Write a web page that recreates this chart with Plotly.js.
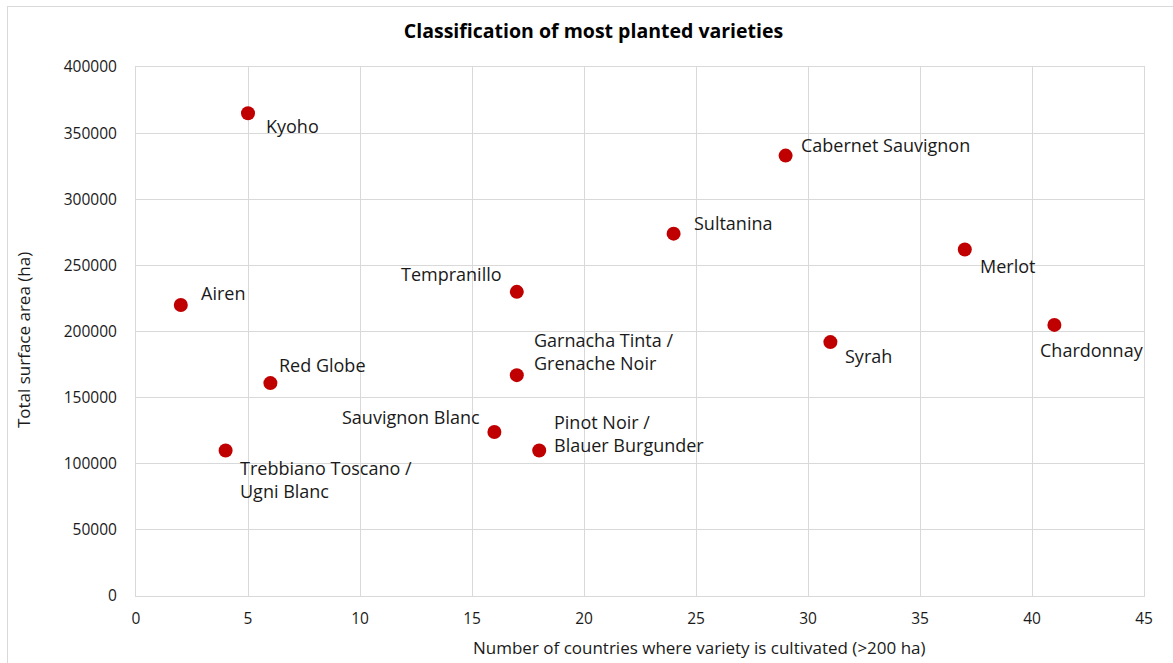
<!DOCTYPE html>
<html>
<head>
<meta charset="utf-8">
<script src="https://cdn.plot.ly/plotly-3.0.1.min.js"></script>
<style>
html,body{margin:0;padding:0;background:#fff;}
#wrap{position:relative;width:1173px;height:663px;overflow:hidden;}
#frame{position:absolute;left:7px;top:6px;width:1200px;height:700px;border-top:1px solid #d9d9d9;border-left:1px solid #d9d9d9;pointer-events:none;}
#chart{position:absolute;left:0;top:0;width:1173px;height:663px;}
</style>
</head>
<body>
<div id="wrap">
<div id="chart"></div>
<div id="frame"></div>
</div>
<script>
var varieties = ["Kyoho","Cabernet Sauvignon","Sultanina","Merlot","Chardonnay","Syrah","Tempranillo","Airen","Garnacha Tinta /<br>Grenache Noir","Red Globe","Sauvignon Blanc","Pinot Noir /<br>Blauer Burgunder","Trebbiano Toscano /<br>Ugni Blanc"];
var countries = [5, 29, 24, 37, 41, 31, 17, 2, 17, 6, 16, 18, 4];
var surface = [365000, 333000, 274000, 262000, 205000, 192000, 230000, 220000, 167000, 161000, 124000, 110000, 110000];
var xTicks = [0,5,10,15,20,25,30,35,40,45];
var yTicks = [0,50000,100000,150000,200000,250000,300000,350000,400000];
var xTitle = 'Number of countries where variety is cultivated (>200 ha)';
var yTitle = 'Total surface area (ha)';

// label placement (style only): anchor, x shift, y shift in px
var labelPos = [
  ["left",16,-13],["left",13,11],["left",18,11],["left",13,-16],["left",-16,-25],
  ["left",13,-14],["right",-13,18],["left",18,12],["left",15,24],["left",7,18],
  ["right",-12,15],["left",13,17],["left",12,-29]
];

var annotations = varieties.map(function(v,i){
  return {x: countries[i], y: surface[i], xref:'x', yref:'y', text: v, showarrow:false,
    xanchor: labelPos[i][0], yanchor:'middle', align:'left',
    xshift: labelPos[i][1], yshift: labelPos[i][2],
    font:{family:'Open Sans, sans-serif', size:18, color:'#1a1a1a'}};
});
annotations.push({xref:'paper', yref:'paper', x:0.5595, y:-0.098, text:xTitle, showarrow:false,
  xanchor:'center', yanchor:'middle', font:{family:'Open Sans, sans-serif', size:17, color:'#1a1a1a'}});
annotations.push({xref:'paper', yref:'paper', x:-0.111, y:0.484, text:yTitle, showarrow:false, textangle:-90,
  xanchor:'center', yanchor:'middle', font:{family:'Open Sans, sans-serif', size:17, color:'#1a1a1a'}});

var trace = {x: countries, y: surface, mode:'markers', type:'scatter',
  marker:{color:'#c00000', size:14}, hoverinfo:'x+y', cliponaxis:false};

var layout = {
  width:1173, height:663,
  margin:{l:136, r:29, t:67, b:67},
  paper_bgcolor:'rgba(0,0,0,0)', plot_bgcolor:'#fff',
  showlegend:false,
  font:{family:'Open Sans, sans-serif', size:16, color:'#1a1a1a'},
  title:{text:'<b>Classification of most planted varieties</b>', x:0.506, xanchor:'center', y:0.953, yanchor:'middle',
    font:{family:'Open Sans, sans-serif', size:19.5, color:'#000'}},
  xaxis:{range:[0,45], tickvals:xTicks, ticktext:xTicks.map(String), showgrid:true, gridcolor:'#d9d9d9', gridwidth:1,
    showline:true, linecolor:'#d9d9d9', mirror:true, zeroline:false, ticks:'', ticklen:0, ticklabelstandoff:8,
    tickfont:{size:15.5, color:'#1a1a1a'}},
  yaxis:{range:[0,400000], tickvals:yTicks, ticktext:yTicks.map(String), showgrid:true, gridcolor:'#d9d9d9', gridwidth:1,
    showline:true, linecolor:'#d9d9d9', mirror:true, zeroline:false, ticks:'', ticklen:0, ticklabelstandoff:15,
    tickfont:{size:15.5, color:'#1a1a1a'}},
  annotations: annotations
};

Plotly.newPlot('chart', [trace], layout, {displayModeBar:false, staticPlot:true});
</script>
</body>
</html>
